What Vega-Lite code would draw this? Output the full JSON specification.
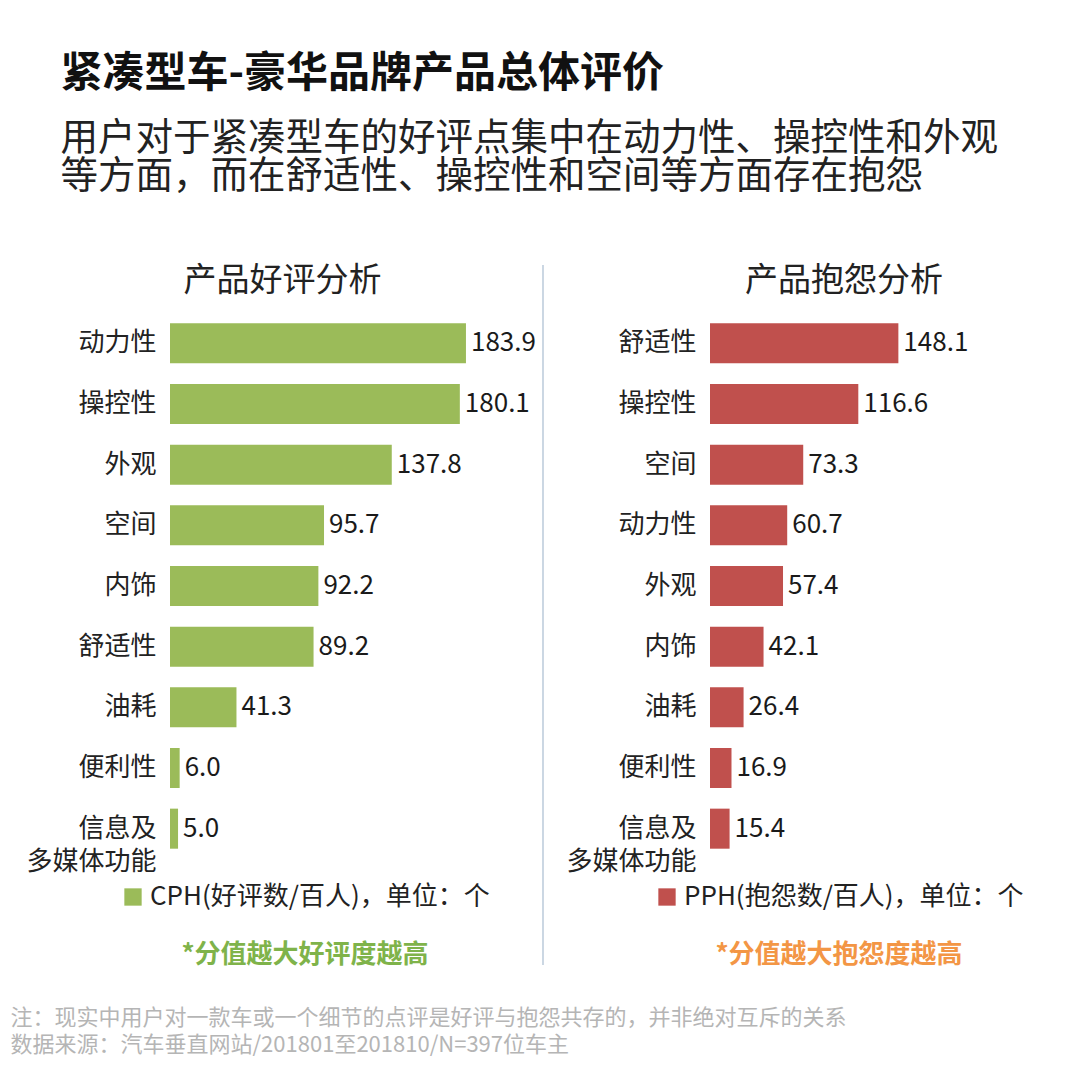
{
  "$schema": "https://vega.github.io/schema/vega-lite/v6.json",
  "background": "white",
  "padding": {"left": 10, "top": 52, "right": 10, "bottom": 10},
  "title": {
    "text": "紧凑型车-豪华品牌产品总体评价",
    "subtitle": ["用户对于紧凑型车的好评点集中在动力性、操控性和外观", "等方面，而在舒适性、操控性和空间等方面存在抱怨"],
    "anchor": "start",
    "dx": 50,
    "fontSize": 42,
    "fontWeight": "bold",
    "color": "#111111",
    "subtitleFontSize": 37.5,
    "subtitleColor": "#222222",
    "subtitleLineHeight": 38,
    "subtitlePadding": 24,
    "offset": 68
  },
  "config": {
    "font": "Noto Sans CJK SC",
    "view": {"stroke": null},
    "axis": {"labelLineHeight": 33}
  },
  "vconcat": [
    {
      "spacing": 6,
      "resolve": {"scale": {"color": "independent"}, "legend": {"color": "independent"}},
      "hconcat": [
        {
          "title": {"text": "产品好评分析", "fontSize": 33, "fontWeight": "normal", "color": "#222222", "frame": "group", "dx": -70, "offset": 15},
          "width": 365,
          "height": 546,
          "data": {"values": [
            {"item": "动力性", "value": 183.9, "key": "CPH(好评数/百人)，单位：个"},
            {"item": "操控性", "value": 180.1, "key": "CPH(好评数/百人)，单位：个"},
            {"item": "外观", "value": 137.8, "key": "CPH(好评数/百人)，单位：个"},
            {"item": "空间", "value": 95.7, "key": "CPH(好评数/百人)，单位：个"},
            {"item": "内饰", "value": 92.2, "key": "CPH(好评数/百人)，单位：个"},
            {"item": "舒适性", "value": 89.2, "key": "CPH(好评数/百人)，单位：个"},
            {"item": "油耗", "value": 41.3, "key": "CPH(好评数/百人)，单位：个"},
            {"item": "便利性", "value": 6.0, "key": "CPH(好评数/百人)，单位：个"},
            {"item": "信息及多媒体功能", "value": 5.0, "key": "CPH(好评数/百人)，单位：个"}
          ]},
          "encoding": {
            "y": {
              "field": "item", "type": "nominal", "sort": "-x",
              "scale": {"paddingInner": 0.34, "paddingOuter": 0.17},
              "axis": {
                "title": null, "domain": false, "ticks": false, "labelFontSize": 26, "labelColor": "#222222",
                "labelPadding": 14, "labelLimit": 300,
                "labelExpr": "datum.value == '信息及多媒体功能' ? ['信息及', '多媒体功能'] : datum.value"
              }
            },
            "x": {"field": "value", "type": "quantitative", "scale": {"domain": [0, 226.8]}, "axis": null}
          },
          "layer": [
            {
              "mark": {"type": "bar"},
              "encoding": {
                "color": {
                  "field": "key", "type": "nominal",
                  "scale": {"range": ["#9bbb59"]},
                  "legend": {
                    "orient": "none", "legendX": -50, "legendY": 571, "padding": 0,
                    "title": "*分值越大好评度越高", "titleOrient": "bottom", "titleLimit": 600,
                    "titleFontSize": 26, "titleFontWeight": "bold", "titleColor": "#7fb34a", "titlePadding": 32,
                    "titleAnchor": "middle",
                    "labelFontSize": 26, "labelColor": "#222222", "labelLimit": 600,
                    "symbolType": "square", "symbolSize": 300, "symbolStrokeWidth": 0
                  }
                }
              }
            },
            {
              "mark": {"type": "text", "align": "left", "baseline": "middle", "dx": 5, "fontSize": 26, "color": "#1a1a1a"},
              "encoding": {"text": {"field": "value", "type": "quantitative", "format": ".1f"}}
            }
          ]
        },
        {
          "width": 16,
          "height": 546,
          "data": {"values": [{"top": -48, "bottom": 652}]},
          "mark": {"type": "rule", "color": "#a9bdd1", "strokeWidth": 1.2},
          "encoding": {
            "x": {"datum": 0, "type": "quantitative", "scale": {"domain": [0, 1]}, "axis": null},
            "y": {"field": "top", "type": "quantitative", "scale": {"domain": [0, 546], "reverse": true}, "axis": null},
            "y2": {"field": "bottom"}
          }
        },
        {
          "title": {"text": "产品抱怨分析", "fontSize": 33, "fontWeight": "normal", "color": "#222222", "frame": "group", "dx": -11, "offset": 15},
          "width": 290,
          "height": 546,
          "data": {"values": [
            {"item": "舒适性", "value": 148.1, "key": "PPH(抱怨数/百人)，单位：个"},
            {"item": "操控性", "value": 116.6, "key": "PPH(抱怨数/百人)，单位：个"},
            {"item": "空间", "value": 73.3, "key": "PPH(抱怨数/百人)，单位：个"},
            {"item": "动力性", "value": 60.7, "key": "PPH(抱怨数/百人)，单位：个"},
            {"item": "外观", "value": 57.4, "key": "PPH(抱怨数/百人)，单位：个"},
            {"item": "内饰", "value": 42.1, "key": "PPH(抱怨数/百人)，单位：个"},
            {"item": "油耗", "value": 26.4, "key": "PPH(抱怨数/百人)，单位：个"},
            {"item": "便利性", "value": 16.9, "key": "PPH(抱怨数/百人)，单位：个"},
            {"item": "信息及多媒体功能", "value": 15.4, "key": "PPH(抱怨数/百人)，单位：个"}
          ]},
          "encoding": {
            "y": {
              "field": "item", "type": "nominal", "sort": "-x",
              "scale": {"paddingInner": 0.34, "paddingOuter": 0.17},
              "axis": {
                "title": null, "domain": false, "ticks": false, "labelFontSize": 26, "labelColor": "#222222",
                "labelPadding": 14, "labelLimit": 300,
                "labelExpr": "datum.value == '信息及多媒体功能' ? ['信息及', '多媒体功能'] : datum.value"
              }
            },
            "x": {"field": "value", "type": "quantitative", "scale": {"domain": [0, 228]}, "axis": null}
          },
          "layer": [
            {
              "mark": {"type": "bar"},
              "encoding": {
                "color": {
                  "field": "key", "type": "nominal",
                  "scale": {"range": ["#c0504d"]},
                  "legend": {
                    "orient": "none", "legendX": -56, "legendY": 571, "padding": 0,
                    "title": "*分值越大抱怨度越高", "titleOrient": "bottom", "titleLimit": 600,
                    "titleFontSize": 26, "titleFontWeight": "bold", "titleColor": "#f39645", "titlePadding": 32,
                    "titleAnchor": "middle",
                    "labelFontSize": 26, "labelColor": "#222222", "labelLimit": 600,
                    "symbolType": "square", "symbolSize": 300, "symbolStrokeWidth": 0
                  }
                }
              }
            },
            {
              "mark": {"type": "text", "align": "left", "baseline": "middle", "dx": 5, "fontSize": 26, "color": "#1a1a1a"},
              "encoding": {"text": {"field": "value", "type": "quantitative", "format": ".1f"}}
            }
          ]
        }
      ]
    },
    {
      "width": 1,
      "height": 54,
      "data": {"values": [
        {"n": 1, "line": "注：现实中用户对一款车或一个细节的点评是好评与抱怨共存的，并非绝对互斥的关系"},
        {"n": 2, "line": "数据来源：汽车垂直网站/201801至201810/N=397位车主"}
      ]},
      "mark": {"type": "text", "align": "left", "baseline": "middle", "fontSize": 22, "color": "#b5b5b5", "dx": -160},
      "encoding": {
        "y": {"field": "n", "type": "ordinal", "axis": null},
        "text": {"field": "line", "type": "nominal"}
      }
    }
  ],
  "spacing": 36
}
